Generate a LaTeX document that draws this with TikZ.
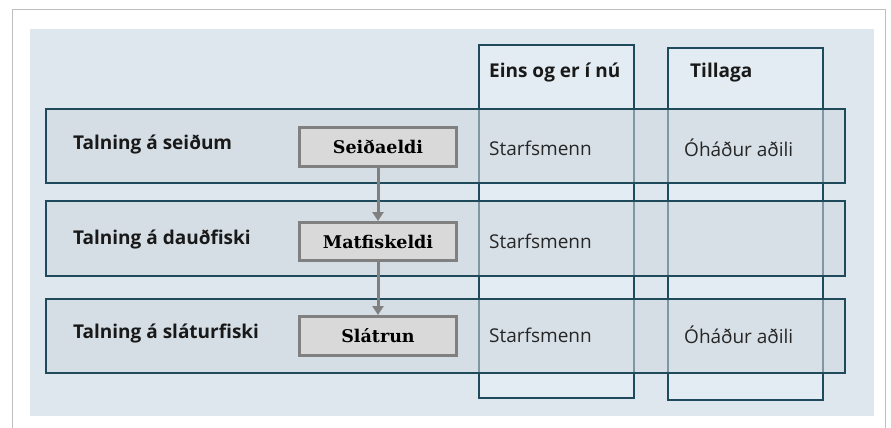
\documentclass[tikz,border=0pt]{standalone}
\usepackage{fontspec}
\setmainfont{Open Sans}
\newfontfamily\serifb{DejaVu Serif}
\usetikzlibrary{arrows.meta}
\definecolor{panelc}{HTML}{DFE7EE}
\definecolor{colfill}{HTML}{E3ECF2}
\definecolor{rowfill}{HTML}{CED7DE}
\definecolor{edge}{HTML}{1E4A5C}
\definecolor{pfill}{HTML}{D9D9D9}
\definecolor{pedge}{HTML}{808080}
\definecolor{framec}{HTML}{BFBFBF}
\tikzset{
  colbox/.style={draw=edge, fill=colfill, line width=1.8pt, anchor=north west, minimum width=155pt, inner sep=0pt},
  rowbox/.style={draw=edge, fill=rowfill, fill opacity=0.55, line width=1.8pt, anchor=north west, minimum width=799pt, inner sep=0pt},
  procbox/.style={draw=pedge, fill=pfill, line width=3pt, anchor=north west, minimum width=157pt, inner sep=0pt, font=\serifb\bfseries\fontsize{17.5}{20}\selectfont, text=black},
  lbl/.style={anchor=west, inner sep=0pt, font=\bfseries\fontsize{19}{22}\selectfont, text=black!90},
  cell/.style={anchor=west, inner sep=0pt, font=\fontsize{19}{22}\selectfont, text=black!85},
  arr/.style={draw=pedge, line width=3pt, -{Triangle[length=9pt,width=11pt]}}
}
\begin{document}
\begin{tikzpicture}[x=1pt,y=-1pt]
\useasboundingbox (0,0) rectangle (891,428);
\fill[white] (0,0) rectangle (891,428);
\draw[framec, line width=1pt] (12,440) -- (12,10) -- (885,10) -- (885,440);
\fill[panelc] (30,29) rectangle (874,416);
% columns
\node[colbox, minimum height=353pt] (c1) at (478,44) {};
\node[colbox, minimum height=352pt] (c2) at (667,47) {};
% rows
\node[rowbox, minimum height=74pt] (r1) at (45,108) {};
\node[rowbox, minimum height=75pt] (r2) at (45,200) {};
\node[rowbox, minimum height=74pt] (r3) at (45,298) {};
% process boxes
\node[procbox, minimum height=39pt] (p1) at (298,126) {Seiðaeldi};
\node[procbox, minimum height=38pt] (p2) at (298,221) {Matfiskeldi};
\node[procbox, minimum height=39pt] (p3) at (298,315) {Slátrun};
\draw[arr] (p1.south) -- (p2.north);
\draw[arr] (p2.south) -- (p3.north);
% labels
\node[lbl] (l1) at (73,144) {Talning á seiðum};
\node[lbl] (l2) at (73,239) {Talning á dauðfiski};
\node[lbl] (l3) at (73,334) {Talning á sláturfiski};
\node[lbl] (h1) at (489,73) {Eins og er í nú};
\node[lbl] (h2) at (690,73) {Tillaga};
\node[cell] (s1) at (489,148) {Starfsmenn};
\node[cell] (o1) at (684,148) {Óháður aðili};
\node[cell] (s2) at (489,241) {Starfsmenn};
\node[cell] (s3) at (489,335) {Starfsmenn};
\node[cell] (o3) at (684,335) {Óháður aðili};
\end{tikzpicture}
\end{document}
